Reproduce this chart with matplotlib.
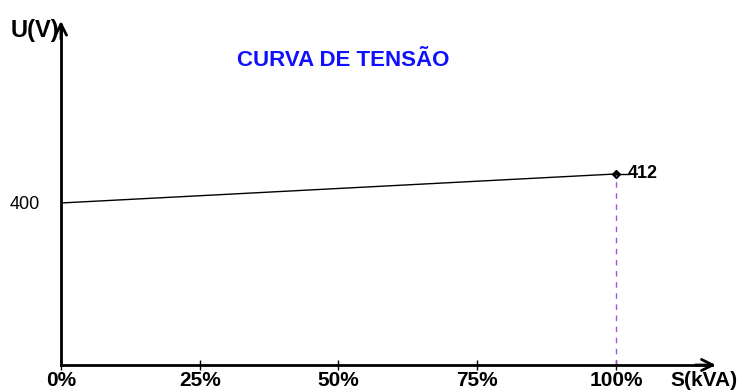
import matplotlib.pyplot as plt

plt.rcParams['font.family'] = ['Liberation Sans', 'DejaVu Sans']

# curva de tensão: carga (%) x tensão (V)
carga = [0, 100]
tensao = [400, 412]
ticks_x = [0, 25, 50, 75, 100]
ticks_x_labels = ['0%', '25%', '50%', '75%', '100%']

fig = plt.figure(figsize=(7.42, 3.91), dpi=100)
W, H = 742, 391
ax = fig.add_axes([61 / W, 1 - 365 / H, (712 - 61) / W, (365 - 25) / H])

ax.set_xlim(0, 117.3)
ax.set_ylim(333, 473.6)

for s in ['top', 'right']:
    ax.spines[s].set_visible(False)
for s in ['left', 'bottom']:
    ax.spines[s].set_linewidth(2)

# setas nos eixos
ax.annotate('', xy=(1.01, 0), xycoords='axes fraction', xytext=(0.97, 0),
            arrowprops=dict(arrowstyle='->', lw=2, color='black', mutation_scale=20))
ax.annotate('', xy=(0, 1.02), xycoords='axes fraction', xytext=(0, 0.95),
            arrowprops=dict(arrowstyle='->', lw=2, color='black', mutation_scale=20))

ax.plot(carga, tensao, color='black', lw=1)
ax.plot(carga[-1], tensao[-1], marker='D', ms=4, color='black')
ax.plot([carga[-1], carga[-1]], [ax.get_ylim()[0], tensao[-1]],
        color='#9b59d6', lw=1, ls=(0, (4, 4)))
ax.plot([carga[-1], carga[-1] + 2.3], [tensao[-1], tensao[-1]], color='black', lw=1)
ax.text(carga[-1] + 2.2, tensao[-1], str(tensao[-1]), fontsize=13, fontweight='bold',
        va='center', ha='left')

ax.set_xticks(ticks_x)
ax.set_xticklabels(ticks_x_labels, fontsize=15, fontweight='bold')
ax.tick_params(axis='x', direction='inout', length=7, width=1, pad=1)
ax.set_yticks([tensao[0]])
ax.set_yticklabels([str(tensao[0])], fontsize=13)
ax.tick_params(axis='y', length=0, pad=15)

fig.text(343 / W, 1 - 61 / H, 'CURVA DE TENSÃO', color='#1010ff',
         fontsize=16, fontweight='bold', ha='center', va='center')
fig.text(11 / W, 1 - 30 / H, 'U(V)', fontsize=17, fontweight='bold', va='center')
fig.text(670 / W, 1 - 380 / H, 'S(kVA)', fontsize=15, fontweight='bold', va='center')

fig.savefig('out.png', dpi=100)
